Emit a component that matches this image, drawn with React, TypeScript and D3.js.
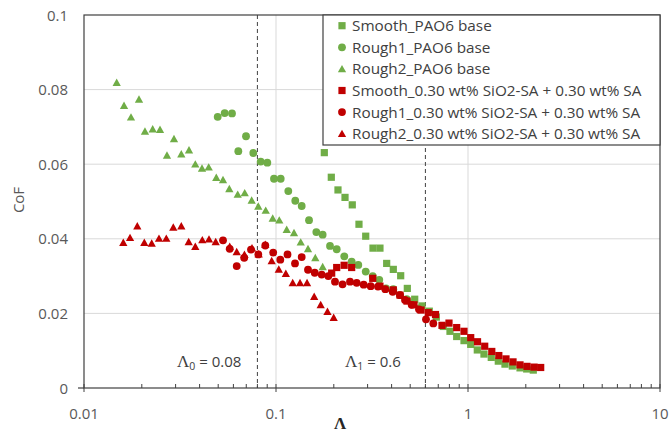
import React from "react";
import * as d3 from "d3";

const smoothPaoX = [0.1785,0.1941,0.2103,0.2288,0.2496,0.2705,0.2933,0.3200,0.3479,0.3771,0.4083,0.4461,0.4830,0.5278,0.5759,0.6286,0.6839,0.7438,0.8057,0.8731,0.9532,1.033,1.118,1.211,1.322,1.438,1.558,1.701,1.866,2.022,2.188];
const smoothPaoY = [0.0631,0.0565,0.0531,0.0511,0.0491,0.0439,0.0407,0.0375,0.0375,0.0334,0.0318,0.0301,0.0267,0.0238,0.0220,0.0206,0.0190,0.0165,0.0152,0.0138,0.0127,0.0117,0.0102,0.0091,0.0082,0.0072,0.0064,0.0059,0.0054,0.0051,0.0048];

const rough1PaoX = [0.04970,0.05404,0.05900,0.06364,0.06980,0.07618,0.08323,0.09010,0.09763,0.1058,0.1159,0.1260,0.1361,0.1486,0.1622,0.1750,0.1911,0.2071,0.2268,0.2478,0.2683,0.2933,0.3190,0.3451,0.3741,0.4083,0.4423,0.4794,0.5171,0.5623];
const rough1PaoY = [0.0727,0.0737,0.0736,0.0635,0.0675,0.0630,0.0607,0.0604,0.0561,0.0561,0.0528,0.0502,0.0488,0.0450,0.0418,0.0411,0.0381,0.0372,0.0353,0.0339,0.0330,0.0312,0.0300,0.0290,0.0267,0.0265,0.0249,0.0238,0.0228,0.0214];

const rough2PaoX = [0.01480,0.01616,0.01757,0.01934,0.02077,0.02279,0.02488,0.02705,0.02942,0.03212,0.03523,0.03799,0.04117,0.04461,0.04887,0.05297,0.05712,0.06317,0.06871,0.07470,0.08087,0.08839,0.09612,0.1040,0.1137,0.1241,0.1345,0.1468,0.1602,0.1750];
const rough2PaoY = [0.0819,0.0757,0.0726,0.0774,0.0688,0.0694,0.0693,0.0624,0.0668,0.0627,0.0638,0.0600,0.0589,0.0592,0.0564,0.0558,0.0534,0.0519,0.0523,0.0503,0.0487,0.0476,0.0455,0.0450,0.0425,0.0416,0.0391,0.0373,0.0349,0.0325];

const smoothSaX = [0.1950,0.2071,0.2264,0.2478,0.3190,0.3479,0.4083,0.4423,0.4813,0.5233,0.5691,0.6213,0.6773,0.7322,0.7962,0.8731,0.9532,1.033,1.121,1.222,1.330,1.447,1.577,1.716,1.866,2.029,2.207,2.391];
const smoothSaY = [0.0308,0.0323,0.0329,0.0323,0.0294,0.0273,0.0263,0.0249,0.0233,0.0223,0.0209,0.0202,0.0197,0.0168,0.0174,0.0162,0.0152,0.0135,0.0124,0.0112,0.0098,0.0087,0.0078,0.0070,0.0062,0.0058,0.0056,0.0055];

const rough1SaX = [0.05297,0.05741,0.06243,0.06829,0.07409,0.08087,0.08795,0.09669,0.1053,0.1148,0.1256,0.1361,0.1468,0.1591,0.1730,0.1873,0.2029,0.2221,0.2429,0.2632,0.2862,0.3113,0.3398,0.3710,0.4054,0.4423,0.4697,0.5088,0.5556,0.6043,0.6597];
const rough1SaY = [0.0396,0.0373,0.0327,0.0349,0.0371,0.0358,0.0382,0.0363,0.0344,0.0358,0.0334,0.0351,0.0317,0.0309,0.0304,0.0300,0.0285,0.0278,0.0285,0.0282,0.0277,0.0273,0.0272,0.0265,0.0258,0.0249,0.0236,0.0223,0.0211,0.0184,0.0173];

const rough2SaX = [0.01602,0.01737,0.01895,0.02061,0.02252,0.02458,0.02683,0.02918,0.03212,0.03510,0.03799,0.04132,0.04477,0.04851,0.05741,0.06243,0.06849,0.07499,0.08125,0.08795,0.09497,0.1034,0.1125,0.1222,0.1334,0.1451,0.1581,0.1709,0.1854,0.1997];
const rough2SaY = [0.0390,0.0403,0.0434,0.0390,0.0388,0.0401,0.0401,0.0431,0.0434,0.0392,0.0379,0.0397,0.0399,0.0392,0.0379,0.0365,0.0358,0.0375,0.0359,0.0385,0.0341,0.0318,0.0307,0.0282,0.0282,0.0282,0.0245,0.0223,0.0205,0.0189];

const xTicks = [0.01, 0.1, 1, 10];
const xTickLabels = ["0.01", "0.1", "1", "10"];
const yTicks = [0, 0.02, 0.04, 0.06, 0.08, 0.1];
const yTickLabels = ["0", "0.02", "0.04", "0.06", "0.08", "0.1"];
const refLines = [0.08, 0.6];

const GREEN = "#70AD47";
const RED = "#C00000";

const seriesList = [
  { name: "Smooth_PAO6 base", xs: smoothPaoX, ys: smoothPaoY, color: GREEN, shape: "square" },
  { name: "Rough1_PAO6 base", xs: rough1PaoX, ys: rough1PaoY, color: GREEN, shape: "circle" },
  { name: "Rough2_PAO6 base", xs: rough2PaoX, ys: rough2PaoY, color: GREEN, shape: "triangle" },
  { name: "Smooth_0.30 wt% SiO2-SA + 0.30 wt% SA", xs: smoothSaX, ys: smoothSaY, color: RED, shape: "square" },
  { name: "Rough1_0.30 wt% SiO2-SA + 0.30 wt% SA", xs: rough1SaX, ys: rough1SaY, color: RED, shape: "circle" },
  { name: "Rough2_0.30 wt% SiO2-SA + 0.30 wt% SA", xs: rough2SaX, ys: rough2SaY, color: RED, shape: "triangle" },
];

function Marker({ shape, cx, cy, color, size }: { shape: string; cx: number; cy: number; color: string; size: number }) {
  if (shape === "square") {
    return <rect x={cx - size / 2} y={cy - size / 2} width={size} height={size} fill={color} />;
  }
  if (shape === "circle") {
    return <circle cx={cx} cy={cy} r={size / 2 + 0.3} fill={color} />;
  }
  const h = size * 0.95;
  const w = size * 1.15;
  return (
    <path
      d={`M${cx},${cy - h / 2 - 0.6} L${cx + w / 2},${cy + h / 2} L${cx - w / 2},${cy + h / 2} Z`}
      fill={color}
    />
  );
}

export default function App() {
  const W = 671, H = 443;
  const left = 84, right = 660, top = 15, bottom = 388;
  const x = d3.scaleLog().domain([0.01, 10]).range([left, right]);
  const y = d3.scaleLinear().domain([0, 0.1]).range([bottom, top]);
  const minor: number[] = [];
  for (const dec of [0.01, 0.1, 1]) for (let k = 2; k <= 9; k++) minor.push(dec * k);
  const font = "'Open Sans', 'Noto Sans', sans-serif";
  const legendX = 323, legendY = 15, legendW = right - 323, legendH = 130;

  return (
    <svg width={W} height={H} style={{ position: "absolute", left: 0, top: 0, background: "#fff" }}>
      <rect x={0} y={0} width={W} height={H} fill="#fff" />
      {yTicks.slice(1, -1).map((t) => (
        <line key={"gy" + t} x1={left} x2={right} y1={y(t)} y2={y(t)} stroke="#d9d9d9" strokeWidth={1} />
      ))}
      {xTicks.slice(1, -1).map((t) => (
        <line key={"gx" + t} x1={x(t)} x2={x(t)} y1={top} y2={bottom} stroke="#d9d9d9" strokeWidth={1} />
      ))}
      {refLines.map((r) => (
        <line key={"r" + r} x1={x(r)} x2={x(r)} y1={top} y2={bottom} stroke="#404040" strokeWidth={1} strokeDasharray="4,3" />
      ))}
      {seriesList.map((s) => (
        <g key={s.name}>
          {s.xs.map((xv, i) => (
            <Marker key={i} shape={s.shape} cx={x(xv)} cy={y(s.ys[i])} color={s.color} size={7.2} />
          ))}
        </g>
      ))}
      <rect x={left} y={top} width={right - left} height={bottom - top} fill="none" stroke="#404040" strokeWidth={1.2} />
      <line x1={left - 6} x2={left} y1={bottom} y2={bottom} stroke="#404040" strokeWidth={1.2} />
      {xTicks.map((t) => (
        <line key={"xt" + t} x1={x(t)} x2={x(t)} y1={bottom - 4} y2={bottom + 4} stroke="#404040" strokeWidth={1} />
      ))}
      {minor.map((t) => (
        <line key={"mt" + t} x1={x(t)} x2={x(t)} y1={bottom - 4} y2={bottom} stroke="#404040" strokeWidth={1} />
      ))}
      {xTicks.map((t, i) => (
        <text key={"xl" + t} x={x(t)} y={419} textAnchor="middle" fontFamily={font} fontSize={15} fill="#595959">
          {xTickLabels[i]}
        </text>
      ))}
      {yTicks.map((t, i) => (
        <text key={"yl" + t} x={68} y={y(t) + 5.5} textAnchor="end" fontFamily={font} fontSize={15} fill="#595959">
          {yTickLabels[i]}
        </text>
      ))}
      <text transform="translate(24,200) rotate(-90)" textAnchor="middle" fontFamily={font} fontSize={15} fill="#595959">
        CoF
      </text>
      <text x={340} y={429} textAnchor="middle" fontFamily="'Liberation Serif', 'DejaVu Serif', serif" fontSize={17} fontWeight="bold" fill="#262626">
        Λ
      </text>
      <text x={177} y={367} fontFamily={font} fontSize={15} fill="#404040">
        <tspan fontFamily="'Liberation Serif', serif" fontSize={17}>Λ</tspan>
        <tspan fontSize={10.5} dy={3}>0</tspan>
        <tspan dy={-3}> = 0.08</tspan>
      </text>
      <text x={345} y={367} fontFamily={font} fontSize={15} fill="#404040">
        <tspan fontFamily="'Liberation Serif', serif" fontSize={17}>Λ</tspan>
        <tspan fontSize={10.5} dy={3}>1</tspan>
        <tspan dy={-3}> = 0.6</tspan>
      </text>
      <rect x={legendX} y={legendY} width={legendW} height={legendH} fill="#fff" stroke="#404040" strokeWidth={1.2} />
      {seriesList.map((s, i) => {
        const cy = 25.7 + i * 21.6;
        return (
          <g key={"lg" + i}>
            <Marker shape={s.shape} cx={342} cy={cy} color={s.color} size={7.2} />
            <text x={352} y={cy + 5.5} fontFamily={font} fontSize={15.3} fill="#404040">
              {s.name}
            </text>
          </g>
        );
      })}
    </svg>
  );
}
